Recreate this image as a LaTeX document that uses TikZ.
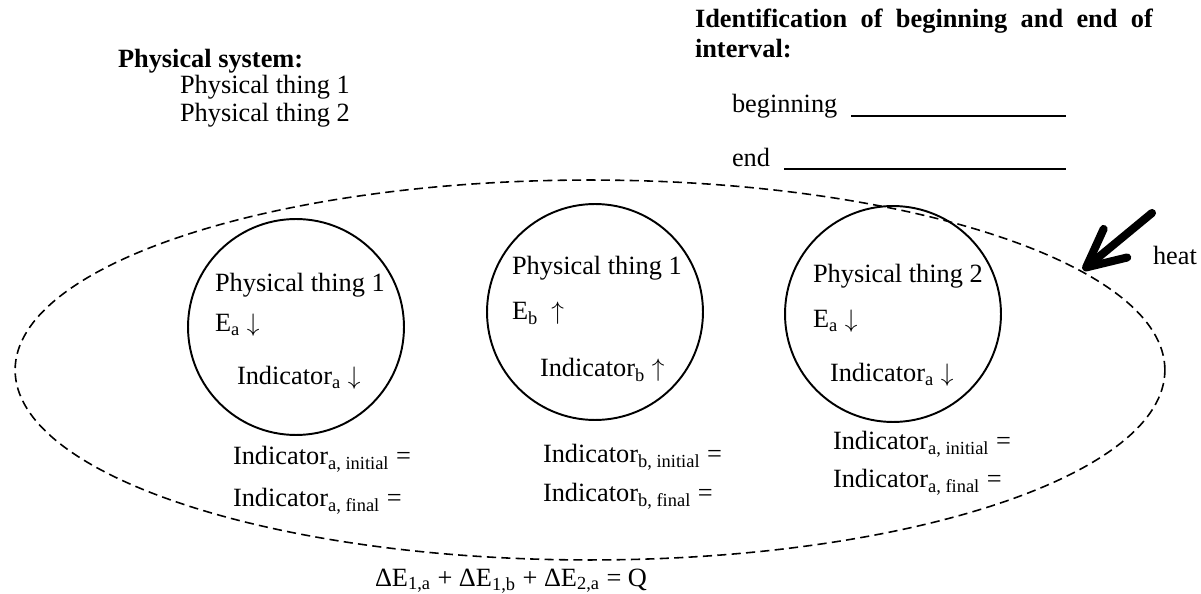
\documentclass[tikz,border=0pt]{standalone}
\usepackage{fontspec}
\setmainfont{Liberation Serif}
\usetikzlibrary{arrows.meta,positioning,shapes.geometric}

\begin{document}
\begin{tikzpicture}[
  x=0.02cm, y=-0.02cm,
  font=\fontsize{15pt}{18pt}\selectfont,
  every node/.style={inner sep=0pt, outer sep=0pt},
  txt/.style     = {anchor=base west},
  head/.style    = {anchor=base west, font=\bfseries\fontsize{15pt}{17pt}\selectfont},
  thing/.style   = {circle, draw, line width=1.1pt, minimum size=4.32cm},
  sysline/.style = {ellipse, draw, line width=0.9pt, dash pattern=on 5.2pt off 3pt,
                    minimum width=23cm, minimum height=7.6cm},
  blank/.style   = {line width=1.2pt},
  heatarr/.style = {line width=4.6pt, line cap=round,
                    -{Straight Barb[length=0.76cm, width=0.74cm, line cap=round, line join=round]}}
]
\useasboundingbox (0,0) rectangle (1201,594);

\node[head] (syshead) at (118,68) {Physical system:};
\node[txt] (list1) at (180,94) {Physical thing 1};
\node[txt] (list2) at (180,122) {Physical thing 2};

\node[head, anchor=north west, text width=9.16cm, align=justify] (ivhead) at (695,9)
  {Identification of beginning and end of \mbox{interval:}};
\node[txt] (beg) at (732,113) {beginning};
\node[txt] (fin) at (732,167) {end};
\coordinate (begline) at (1066,116);
\coordinate (finline) at (1066,169);
\draw[blank] (beg.base east) ++(14,3) -- (begline);
\draw[blank] (fin.base east) ++(14,2) -- (finline);

\node[sysline] (sys) at (590,370) {};

\node[thing] (thA) at (296,327) {};
\node[thing] (thB) at (595,312) {};
\node[thing] (thC) at (893,314) {};

\node[txt] (nameA) at (215,292) {Physical thing 1};
\node[txt] (enA) at (215,332) {E\textsubscript{a} $\downarrow$};
\node[txt] (indA) at (237,385) {Indicator\textsubscript{a} $\downarrow$};

\node[txt] (nameB) at (512,275) {Physical thing 1};
\node[txt] (enB) at (512,320) {E\textsubscript{b}~~$\uparrow$};
\node[txt] (indB) at (540,377) {Indicator\textsubscript{b} $\uparrow$};

\node[txt] (nameC) at (813,283) {Physical thing 2};
\node[txt] (enC) at (813,328) {E\textsubscript{a} $\downarrow$};
\node[txt] (indC) at (830,382) {Indicator\textsubscript{a} $\downarrow$};

\node[txt] (iniA) at (233,465) {Indicator\textsubscript{a, initial} =};
\node[txt] (endA) at (233,507) {Indicator\textsubscript{a, final} =};
\node[txt] (iniB) at (543,463) {Indicator\textsubscript{b, initial} =};
\node[txt] (endB) at (543,502) {Indicator\textsubscript{b, final} =};
\node[txt] (iniC) at (833,450) {Indicator\textsubscript{a, initial} =};
\node[txt] (endC) at (833,488) {Indicator\textsubscript{a, final} =};

\coordinate (heattip) at (1083,270);
\coordinate (heattail) at (1152,213);
\draw[heatarr] (heattail) -- (heattip);
\node[txt] (heat) at (1153,265) {heat};

\node[txt] (balance) at (375,586)
  {ΔE\textsubscript{1,a} + ΔE\textsubscript{1,b} + ΔE\textsubscript{2,a} = Q};
\end{tikzpicture}
\end{document}
